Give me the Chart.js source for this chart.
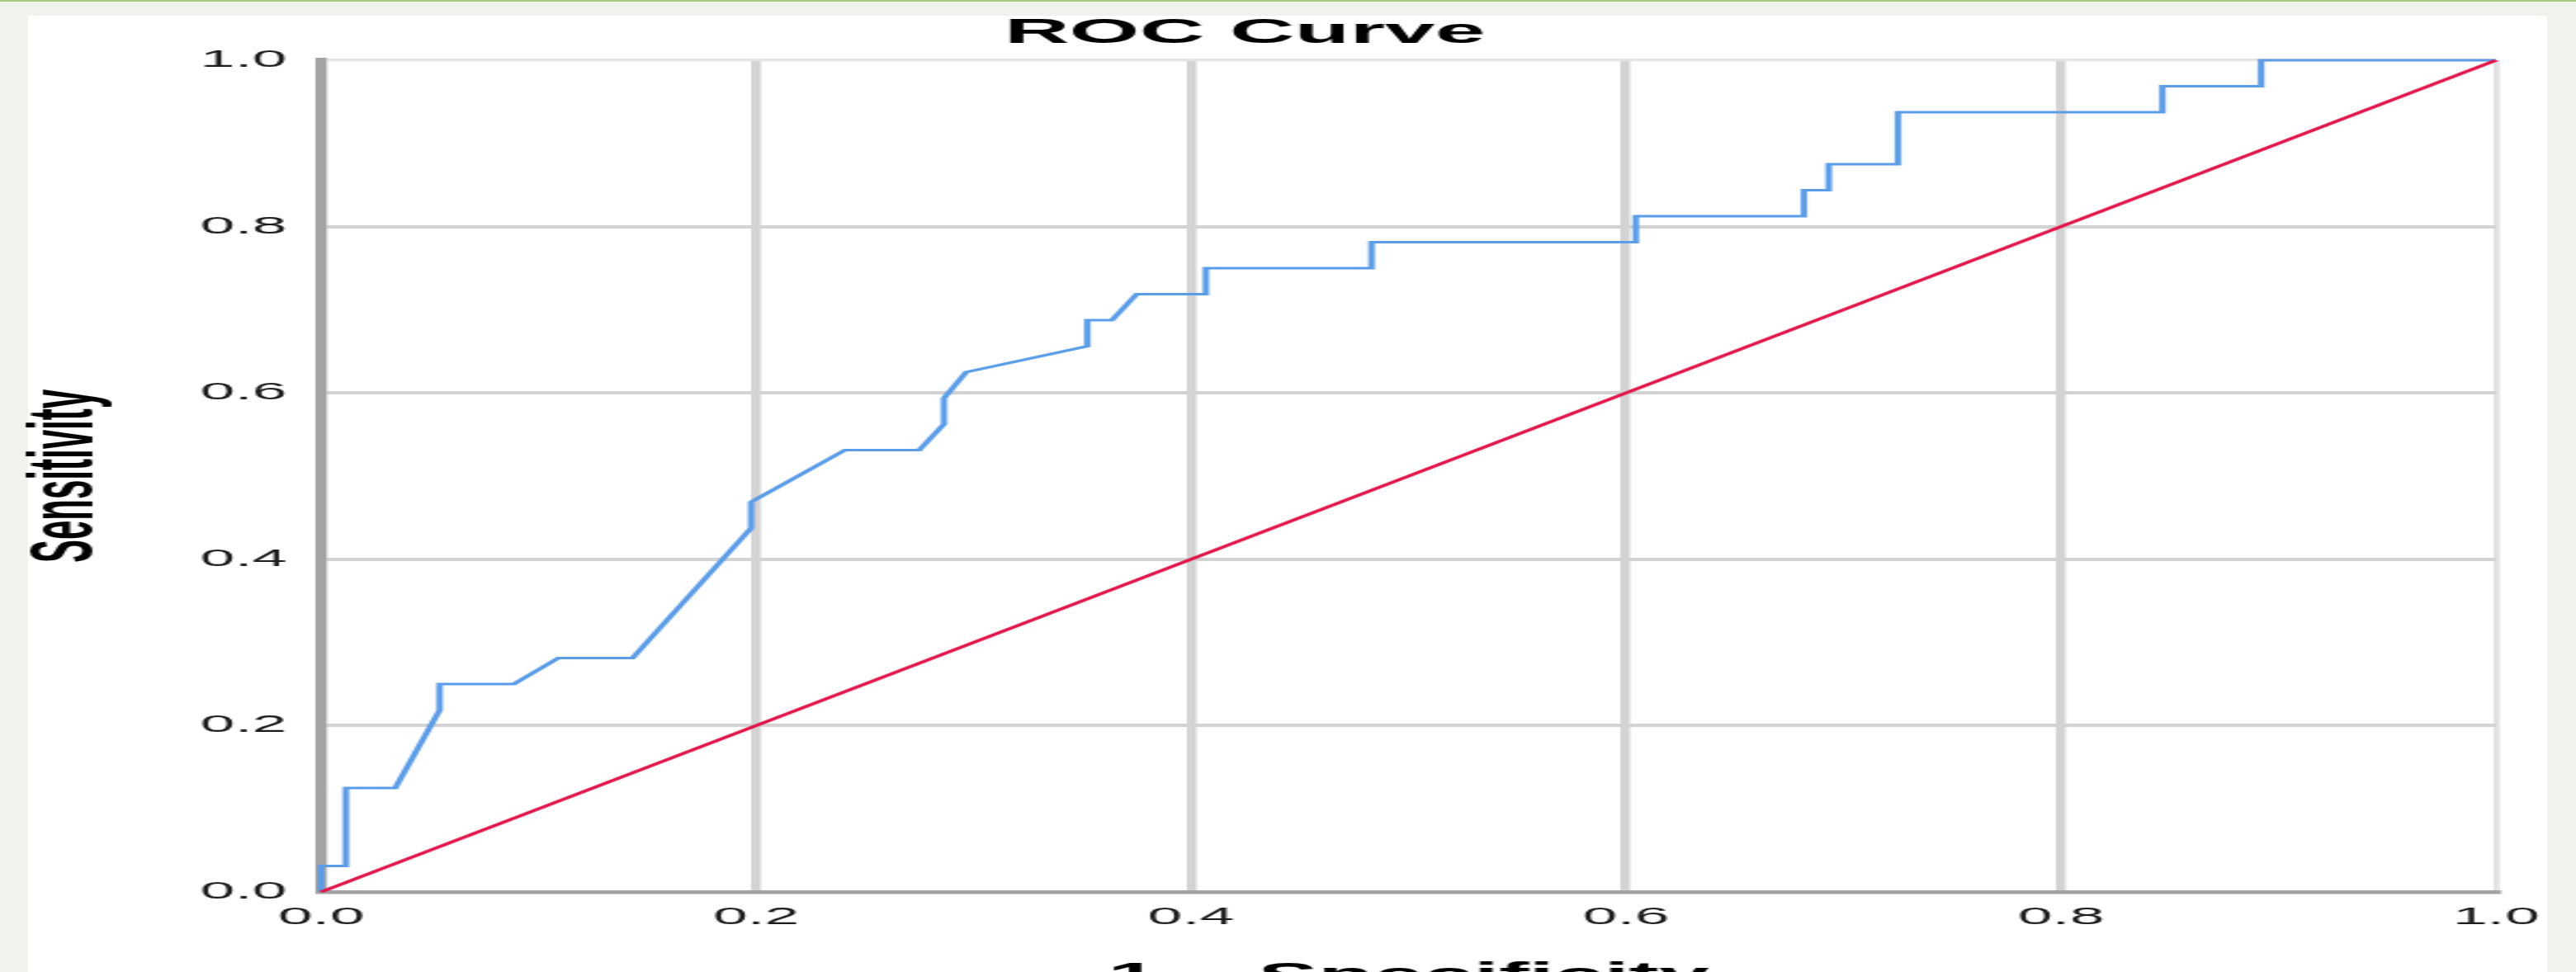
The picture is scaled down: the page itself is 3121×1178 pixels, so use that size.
<!DOCTYPE html>
<html><head><meta charset="utf-8">
<script src="https://cdn.jsdelivr.net/npm/chart.js@4.4.1/dist/chart.umd.min.js"></script>
<style>
html,body{margin:0;padding:0;overflow:hidden;background:#f0f3eb;width:3121px;height:1178px;position:relative;}
#topline{position:absolute;left:0;top:0;width:3121px;height:2px;background:#a6c97c;}
#stage{position:absolute;left:0;top:0;width:1200px;height:1230px;transform:scaleX(2.6);transform-origin:0 0;}
#panel{position:absolute;left:13.46px;top:19px;width:1173.8px;height:1211px;background:#fff;}
#wrap{position:absolute;left:-3px;top:19px;width:1202px;height:1186px;}
</style></head>
<body>
<div id="topline"></div>
<div id="stage"><div id="panel"></div><div id="wrap"><canvas id="c"></canvas></div></div>
<script>
// ROC curve: 1 - Specificity (x) and Sensitivity (y)
const fpr = [0, 0, 0.0114, 0.0114, 0.0341, 0.0545, 0.0545, 0.0886, 0.1091, 0.1432, 0.1977, 0.1977, 0.2409, 0.2750, 0.2864, 0.2864, 0.2966, 0.3523, 0.3523, 0.3636, 0.3750, 0.4068, 0.4068, 0.4830, 0.4830, 0.6045, 0.6045, 0.6818, 0.6818, 0.6932, 0.6932, 0.7250, 0.7250, 0.8466, 0.8466, 0.8920, 0.8920, 1];
const tpr = [0, 0.03125, 0.03125, 0.125, 0.125, 0.21875, 0.25, 0.25, 0.28125, 0.28125, 0.4375, 0.46875, 0.53125, 0.53125, 0.5625, 0.59375, 0.625, 0.65625, 0.6875, 0.6875, 0.71875, 0.71875, 0.75, 0.75, 0.78125, 0.78125, 0.8125, 0.8125, 0.84375, 0.84375, 0.875, 0.875, 0.9375, 0.9375, 0.96875, 0.96875, 1, 1];
// Reference (chance) line
const refX = [0, 1];
const refY = [0, 1];
// Ticks
const tickValues = [0, 0.2, 0.4, 0.6, 0.8, 1.0];
const tickLabels = ['0.0', '0.2', '0.4', '0.6', '0.8', '1.0'];
const chartTitle = 'ROC Curve';
const xTitle = '1 – Specificity';
const yTitle = 'Sensitivity';

const toPts = (xs, ys) => xs.map((x, i) => ({x: x, y: ys[i]}));
const labelFor = v => {
  const i = tickValues.findIndex(t => Math.abs(t - v) < 1e-9);
  return i >= 0 ? tickLabels[i] : '';
};
const FONT = "'Liberation Sans', Arial, sans-serif";

new Chart(document.getElementById('c'), {
  type: 'scatter',
  data: {
    datasets: [
      {
        label: 'Reference Line',
        data: toPts(refX, refY),
        showLine: true,
        borderColor: '#e3164a',
        borderWidth: 3,
        pointRadius: 0,
        tension: 0,
        order: 0,
        clip: false
      },
      {
        label: 'ROC',
        data: toPts(fpr, tpr),
        showLine: true,
        borderColor: '#5c9de9',
        borderWidth: 3,
        pointRadius: 0,
        tension: 0,
        order: 1,
        clip: false
      }
    ]
  },
  options: {
    responsive: true,
    maintainAspectRatio: false,
    animation: false,
    devicePixelRatio: 1,
    layout: {padding: {left: 0, right: 35.9, top: 0, bottom: 0}},
    plugins: {
      legend: {display: false},
      tooltip: {enabled: false},
      title: {
        display: true,
        text: chartTitle,
        color: '#000',
        font: {family: FONT, size: 42, weight: 'bold', lineHeight: 1},
        padding: {top: 0, bottom: 12}
      }
    },
    scales: {
      x: {
        type: 'linear',
        min: 0, max: 1,
        afterBuildTicks: s => { s.ticks = tickValues.map(v => ({value: v})); },
        afterFit: s => { s.height = 124; s.paddingLeft = 0; s.paddingRight = 0; },
        ticks: {
          padding: 14,
          color: '#1c1c1c',
          font: {family: FONT, size: 29},
          maxRotation: 0,
          callback: v => labelFor(v)
        },
        grid: {
          drawTicks: false,
          color: c => (c.tick && c.tick.value === 1) ? '#e2e2e2' : '#d3d3d3',
          lineWidth: c => (c.tick && c.tick.value === 1) ? 2.8 : 4.5
        },
        border: {display: true, color: '#a3a3a3', width: 4.5},
        title: {
          display: true,
          text: xTitle,
          color: '#000',
          font: {family: FONT, size: 42, weight: 'bold', lineHeight: 1},
          padding: {top: 0, bottom: 0}
        }
      },
      y: {
        type: 'linear',
        min: 0, max: 1,
        afterBuildTicks: s => { s.ticks = tickValues.map(v => ({value: v})); },
        afterFit: s => { s.width = 152.6; s.paddingTop = 0; s.paddingBottom = 0; },
        ticks: {
          padding: 16,
          color: '#1c1c1c',
          font: {family: FONT, size: 29},
          callback: v => labelFor(v)
        },
        grid: {
          drawTicks: false,
          color: c => (c.tick && c.tick.value === 1) ? '#e4e4e4' : '#d3d3d3',
          lineWidth: c => (c.tick && c.tick.value === 1) ? 3.2 : 4
        },
        border: {display: true, color: '#a3a3a3', width: 5.3},
        title: {
          display: true,
          text: yTitle,
          color: '#000',
          font: {family: FONT, size: 42, weight: 'bold', lineHeight: 1},
          padding: {top: 13, bottom: 0}
        }
      }
    }
  }
});
</script>
</body></html>
